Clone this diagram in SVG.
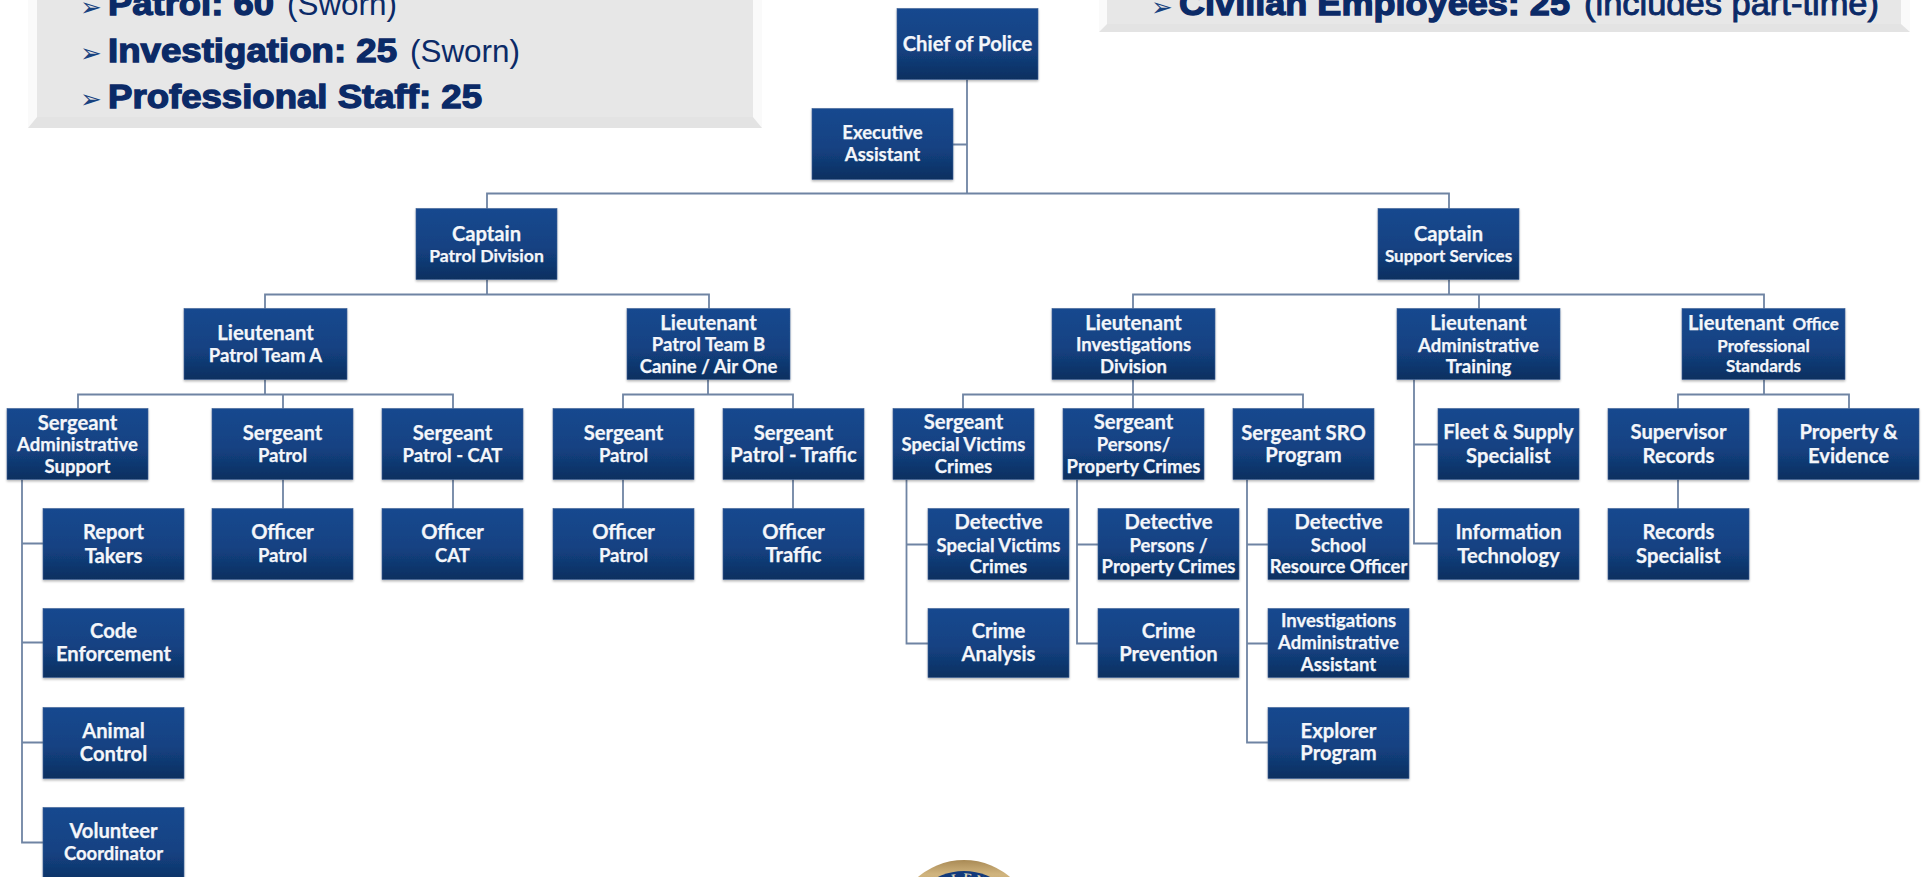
<svg xmlns="http://www.w3.org/2000/svg" width="1927" height="877" viewBox="0 0 1927 877">
<style>
.n{fill:url(#g);stroke:#3f6296;stroke-width:.6;filter:url(#s)}
.t{font-family:"Lato","Open Sans",sans-serif;font-weight:700;fill:#f4f6fa;stroke:#f4f6fa;stroke-width:.25;text-anchor:middle}
.a{font-size:20.2px}.b{font-size:18.5px}.c{font-size:17px}.d{font-size:17.6px}
.c1{fill:none;stroke:#6f84a3;stroke-width:1.8}
.p{font-family:"Liberation Sans",Arial,sans-serif;fill:#0b2a67}
.pb{font-weight:700;font-size:33px;stroke:#0b2a67;stroke-width:1.3}
.pr{font-size:31px}
.bu{font-family:"DejaVu Sans",sans-serif;font-size:26px;fill:#17427f}
</style>
<defs>
<linearGradient id="g" x1="0" y1="0" x2="0" y2="1"><stop offset="0" stop-color="#14488f"/><stop offset=".55" stop-color="#134282"/><stop offset="1" stop-color="#0e2f60"/></linearGradient>
<filter id="s" x="-5%" y="-5%" width="110%" height="115%"><feDropShadow dx="0" dy="1.5" stdDeviation="1" flood-color="#000" flood-opacity=".3"/></filter>
<linearGradient id="gold" x1="0" y1="0" x2="0" y2="1"><stop offset="0" stop-color="#a98a55"/><stop offset=".1" stop-color="#d0b47e"/><stop offset="1" stop-color="#8a6d3a"/></linearGradient>
<path id="sealarc" d="M915 931A49 49 0 0 1 1013 931"/>
</defs>
<rect width="1927" height="877" fill="#fff"/>
<g id="panel-left">
<path d="M28 128L37 117V0H28Z" fill="#fafafa"/><path d="M762 128L753 117V0H762Z" fill="#fafafa"/>
<rect x="37" y="0" width="716" height="117" fill="#e7e7e7"/>
<path d="M28 128L37 117H753L762 128Z" fill="#e3e3e3"/>
<text class="bu" x="80" y="16">➢</text><text class="p pb" x="108" y="15" textLength="166" lengthAdjust="spacingAndGlyphs">Patrol: 60</text><text class="p pr" x="287" y="15" textLength="110" lengthAdjust="spacingAndGlyphs">(Sworn)</text>
<text class="bu" x="80" y="62">➢</text><text class="p pb" x="108" y="62" textLength="289" lengthAdjust="spacingAndGlyphs">Investigation: 25</text><text class="p pr" x="410" y="62" textLength="110" lengthAdjust="spacingAndGlyphs">(Sworn)</text>
<text class="bu" x="80" y="108">➢</text><text class="p pb" x="108" y="108" textLength="374" lengthAdjust="spacingAndGlyphs">Professional Staff: 25</text>
</g>
<g id="panel-right">
<path d="M1099 32L1107 24V0H1099Z" fill="#fafafa"/><path d="M1910 32L1901 24V0H1910Z" fill="#fafafa"/>
<rect x="1107" y="0" width="794" height="24" fill="#e7e7e7"/>
<path d="M1099 32L1107 24H1901L1910 32Z" fill="#e3e3e3"/>
<text class="bu" x="1151" y="16">➢</text><text class="p pb" x="1179" y="15" textLength="391" lengthAdjust="spacingAndGlyphs">Civilian Employees: 25</text><text class="p pb" style="font-weight:400;stroke-width:.9" x="1584" y="15" textLength="295" lengthAdjust="spacingAndGlyphs">(includes part-time)</text>
</g>
<g transform="translate(0 .5)">
<g id="connectors" class="c1">
<path d="M967 79V193M953 144H967M487 208V193H1449V208"/>
<path d="M487 279V294M265 308V294H709V308"/>
<path d="M1449 279V294M1133 308V294H1764V308M1479 294V308"/>
<path d="M265 379V394M78 408V394H453V408M283 394V408"/>
<path d="M708 379V394M623 408V394H793V408"/>
<path d="M1133 379V394M963 408V394H1303V408M1133 394V408"/>
<path d="M1414 379V543H1438M1414 444H1438"/>
<path d="M1764 379V394M1678 408V394H1849V408"/>
<path d="M22 479V842H43M22 543H43M22 642H43M22 742H43"/>
<path d="M283 479V508M453 479V508M623 479V508M793 479V508M1678 479V508"/>
<path d="M906.500 479V643H928M906.500 544H928"/>
<path d="M1077 479V643H1098M1077 544H1098"/>
<path d="M1247 479V742H1268M1247 544H1268M1247 643H1268"/>
</g>
<g id="chief"><rect class="n" x="897" y="8" width="141" height="71"/><text class="t a" x="967.500" y="50">Chief of Police</text></g>
<g id="exec"><rect class="n" x="812" y="108" width="141" height="71"/><text class="t b" x="882.500" y="138">Executive</text><text class="t b" x="882.500" y="160">Assistant</text></g>
<g id="cap-patrol"><rect class="n" x="416" y="208" width="141" height="71"/><text class="t a" x="486.500" y="240">Captain</text><text class="t d" x="486.500" y="261">Patrol Division</text></g>
<g id="cap-support"><rect class="n" x="1378" y="208" width="141" height="71"/><text class="t a" x="1448.500" y="240">Captain</text><text class="t c" x="1448.500" y="261">Support Services</text></g>
<g id="lt-a"><rect class="n" x="184" y="308" width="163" height="71"/><text class="t a" x="265.500" y="339">Lieutenant</text><text class="t b" x="265.500" y="361">Patrol Team A</text></g>
<g id="lt-b"><rect class="n" x="627" y="308" width="163" height="71"/><text class="t a" x="708.500" y="329">Lieutenant</text><text class="t b" x="708.500" y="350">Patrol Team B</text><text class="t b" x="708.500" y="372">Canine / Air One</text></g>
<g id="lt-inv"><rect class="n" x="1052" y="308" width="163" height="71"/><text class="t a" x="1133.500" y="329">Lieutenant</text><text class="t b" x="1133.500" y="350">Investigations</text><text class="t b" x="1133.500" y="372">Division</text></g>
<g id="lt-admin"><rect class="n" x="1397" y="308" width="163" height="71"/><text class="t a" x="1478.500" y="329">Lieutenant</text><text class="t b" x="1478.500" y="351">Administrative</text><text class="t b" x="1478.500" y="372">Training</text></g>
<g id="lt-office"><rect class="n" x="1682" y="308" width="163" height="71"/><text class="t a" x="1763.500" y="329">Lieutenant <tspan class="c" dx="3">Office</tspan></text><text class="t c" x="1763.500" y="351">Professional</text><text class="t c" x="1763.500" y="371">Standards</text></g>
<g id="sgt-admin"><rect class="n" x="7" y="408" width="141" height="71"/><text class="t a" x="77.500" y="429">Sergeant</text><text class="t b" x="77.500" y="450">Administrative</text><text class="t b" x="77.500" y="472">Support</text></g>
<g id="sgt-patrol-a"><rect class="n" x="212" y="408" width="141" height="71"/><text class="t a" x="282.500" y="439">Sergeant</text><text class="t b" x="282.500" y="461">Patrol</text></g>
<g id="sgt-cat"><rect class="n" x="382" y="408" width="141" height="71"/><text class="t a" x="452.500" y="439">Sergeant</text><text class="t b" x="452.500" y="461">Patrol - CAT</text></g>
<g id="sgt-patrol-b"><rect class="n" x="553" y="408" width="141" height="71"/><text class="t a" x="623.500" y="439">Sergeant</text><text class="t b" x="623.500" y="461">Patrol</text></g>
<g id="sgt-traffic"><rect class="n" x="723" y="408" width="141" height="71"/><text class="t a" x="793.500" y="439">Sergeant</text><text class="t a" x="793.500" y="461">Patrol - Traffic</text></g>
<g id="sgt-svc"><rect class="n" x="893" y="408" width="141" height="71"/><text class="t a" x="963.500" y="428">Sergeant</text><text class="t b" x="963.500" y="450">Special Victims</text><text class="t b" x="963.500" y="472">Crimes</text></g>
<g id="sgt-persons"><rect class="n" x="1063" y="408" width="141" height="71"/><text class="t a" x="1133.500" y="428">Sergeant</text><text class="t b" x="1133.500" y="450">Persons/</text><text class="t b" x="1133.500" y="472">Property Crimes</text></g>
<g id="sgt-sro"><rect class="n" x="1233" y="408" width="141" height="71"/><text class="t a" x="1303.500" y="439">Sergeant SRO</text><text class="t a" x="1303.500" y="461">Program</text></g>
<g id="fleet"><rect class="n" x="1438" y="408" width="141" height="71"/><text class="t a" x="1508.500" y="438">Fleet &amp; Supply</text><text class="t a" x="1508.500" y="462">Specialist</text></g>
<g id="supervisor"><rect class="n" x="1608" y="408" width="141" height="71"/><text class="t a" x="1678.500" y="438">Supervisor</text><text class="t a" x="1678.500" y="462">Records</text></g>
<g id="property"><rect class="n" x="1778" y="408" width="141" height="71"/><text class="t a" x="1848.500" y="438">Property &amp;</text><text class="t a" x="1848.500" y="462">Evidence</text></g>
<g id="report"><rect class="n" x="43" y="508" width="141" height="71"/><text class="t a" x="113.500" y="538">Report</text><text class="t a" x="113.500" y="562">Takers</text></g>
<g id="off-patrol-a"><rect class="n" x="212" y="508" width="141" height="71"/><text class="t a" x="282.500" y="538">Officer</text><text class="t b" x="282.500" y="561">Patrol</text></g>
<g id="off-cat"><rect class="n" x="382" y="508" width="141" height="71"/><text class="t a" x="452.500" y="538">Officer</text><text class="t b" x="452.500" y="561">CAT</text></g>
<g id="off-patrol-b"><rect class="n" x="553" y="508" width="141" height="71"/><text class="t a" x="623.500" y="538">Officer</text><text class="t b" x="623.500" y="561">Patrol</text></g>
<g id="off-traffic"><rect class="n" x="723" y="508" width="141" height="71"/><text class="t a" x="793.500" y="538">Officer</text><text class="t a" x="793.500" y="561">Traffic</text></g>
<g id="det-svc"><rect class="n" x="928" y="508" width="141" height="71"/><text class="t a" x="998.500" y="528">Detective</text><text class="t b" x="998.500" y="551">Special Victims</text><text class="t b" x="998.500" y="572">Crimes</text></g>
<g id="det-persons"><rect class="n" x="1098" y="508" width="141" height="71"/><text class="t a" x="1168.500" y="528">Detective</text><text class="t b" x="1168.500" y="551">Persons /</text><text class="t b" x="1168.500" y="572">Property Crimes</text></g>
<g id="det-school"><rect class="n" x="1268" y="508" width="141" height="71"/><text class="t a" x="1338.500" y="528">Detective</text><text class="t b" x="1338.500" y="551">School</text><text class="t b" x="1338.500" y="572">Resource Officer</text></g>
<g id="info"><rect class="n" x="1438" y="508" width="141" height="71"/><text class="t a" x="1508.500" y="538">Information</text><text class="t a" x="1508.500" y="562">Technology</text></g>
<g id="records"><rect class="n" x="1608" y="508" width="141" height="71"/><text class="t a" x="1678.500" y="538">Records</text><text class="t a" x="1678.500" y="562">Specialist</text></g>
<g id="code"><rect class="n" x="43" y="608" width="141" height="69"/><text class="t a" x="113.500" y="637">Code</text><text class="t a" x="113.500" y="660">Enforcement</text></g>
<g id="crime-analysis"><rect class="n" x="928" y="608" width="141" height="69"/><text class="t a" x="998.500" y="637">Crime</text><text class="t a" x="998.500" y="660">Analysis</text></g>
<g id="crime-prevention"><rect class="n" x="1098" y="608" width="141" height="69"/><text class="t a" x="1168.500" y="637">Crime</text><text class="t a" x="1168.500" y="660">Prevention</text></g>
<g id="inv-admin"><rect class="n" x="1268" y="608" width="141" height="69"/><text class="t b" x="1338.500" y="626">Investigations</text><text class="t b" x="1338.500" y="648">Administrative</text><text class="t b" x="1338.500" y="670">Assistant</text></g>
<g id="animal"><rect class="n" x="43" y="707" width="141" height="71"/><text class="t a" x="113.500" y="737">Animal</text><text class="t a" x="113.500" y="760">Control</text></g>
<g id="explorer"><rect class="n" x="1268" y="707" width="141" height="71"/><text class="t a" x="1338.500" y="737">Explorer</text><text class="t a" x="1338.500" y="759">Program</text></g>
<g id="volunteer"><rect class="n" x="43" y="807" width="141" height="80"/><text class="t a" x="113.500" y="837">Volunteer</text><text class="t b" x="113.500" y="859">Coordinator</text></g>
</g>
<g id="seal">
<circle cx="964" cy="931" r="71" fill="url(#gold)"/>
<circle cx="964" cy="931" r="60" fill="#123a7c"/>
<text font-family="Liberation Serif,serif" font-weight="700" font-size="13" fill="#d9d2b8" letter-spacing="2.500"><textPath href="#sealarc" startOffset="50%" text-anchor="middle">VALENC</textPath></text>
</g>
</svg>
